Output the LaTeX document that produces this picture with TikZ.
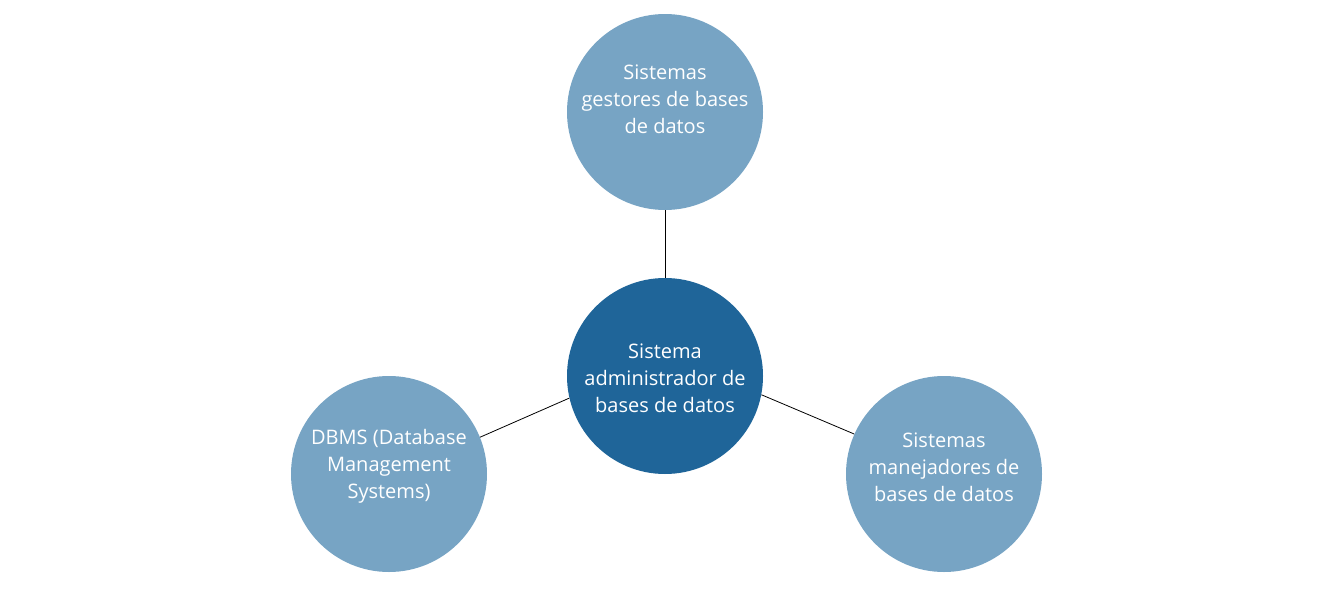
\documentclass[tikz,border=0pt]{standalone}
\usepackage{fontspec}
\setmainfont{Open Sans}
\definecolor{darkc}{HTML}{1F6599}
\definecolor{lightc}{HTML}{77A4C4}
\begin{document}
\begin{tikzpicture}[x=1pt,y=-1pt,
  bubble/.style={circle,minimum size=196pt,inner sep=0pt,draw=none},
  outer/.style={bubble,fill=lightc},
  inner/.style={bubble,fill=darkc},
  lbl/.style={text=white,align=center,font=\fontsize{20}{27}\selectfont},
  link/.style={draw=black,line width=0.8pt}]
\useasboundingbox (0,0) rectangle (1320,589);
\node[outer] (top) at (665,112) {};
\node[inner] (mid) at (665,376) {};
\node[outer] (left) at (389,474) {};
\node[outer] (right) at (944,474) {};
\draw[link] (top.south) -- (mid.north);
\draw[link] (left.22.3) -- (mid.-167.5);
\draw[link] (right.156.9) -- (mid.-11.8);
\node[lbl] (ttop) at (665,99) {Sistemas\\gestores de bases\\de datos};
\node[lbl] (tmid) at (665,378) {Sistema\\administrador de\\bases de datos};
\node[lbl] (tleft) at (389,466) {DBMS (Database\\Management\\Systems)};
\node[lbl] (tright) at (944,467) {Sistemas\\manejadores de\\bases de datos};
\end{tikzpicture}
\end{document}
